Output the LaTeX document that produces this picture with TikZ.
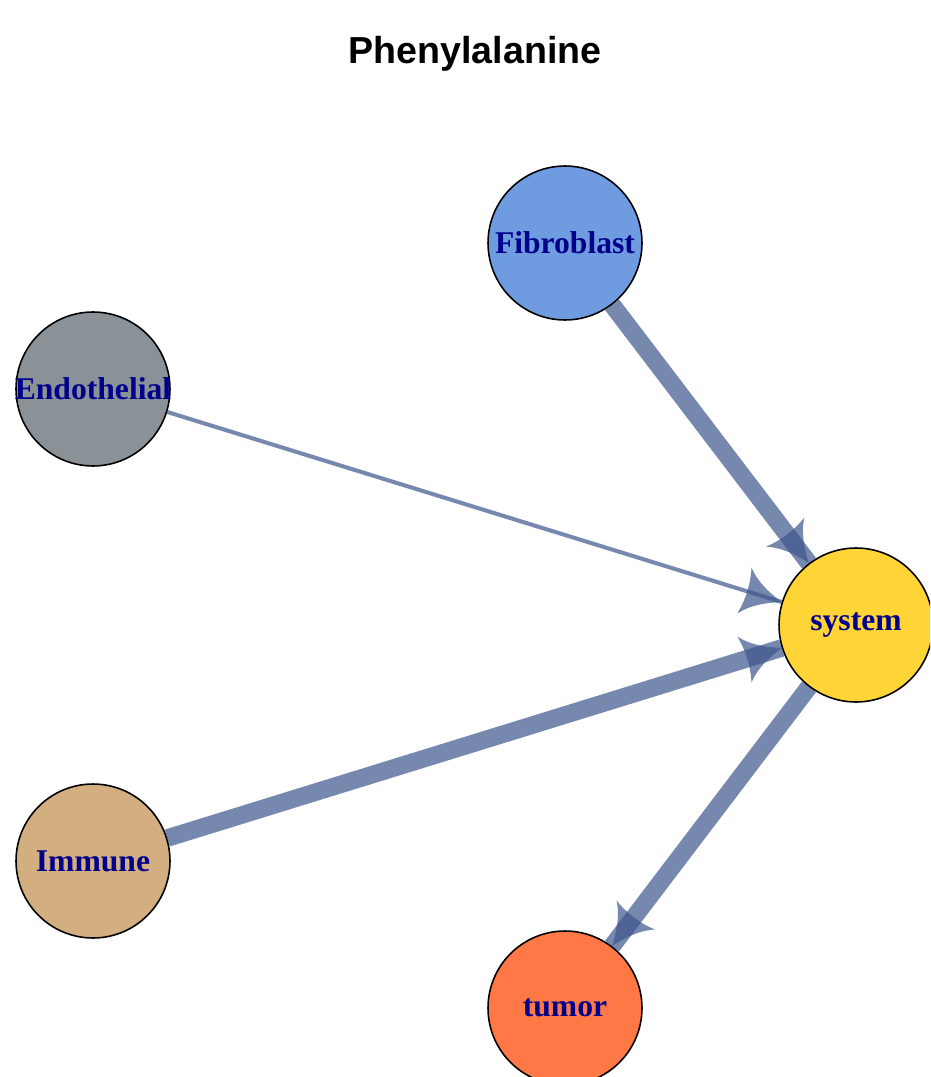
\documentclass[tikz,border=0pt]{standalone}
\usepackage{fontspec}
\setmainfont{Liberation Serif}
\newfontfamily\titlefont{Liberation Sans}
\usetikzlibrary{decorations.markings}
\definecolor{fibrocol}{RGB}{111,156,224}
\definecolor{endocol}{RGB}{138,145,151}
\definecolor{syscol}{RGB}{255,212,55}
\definecolor{immcol}{RGB}{210,174,128}
\definecolor{tumcol}{RGB}{255,120,70}
\definecolor{edgecol}{RGB}{61,85,140}
\definecolor{labcol}{RGB}{0,0,139}
\pgfdeclarelayer{edges}
\pgfsetlayers{edges,main}
\tikzset{
  cell/.style={circle, draw=black, line width=0.9pt, minimum size=3.08cm, inner sep=0pt,
    text=labcol, font=\fontsize{18}{20}\selectfont\bfseries},
  flow/.style={draw=edgecol, draw opacity=0.7, line width=#1,
    postaction={decorate, draw=none},
    decoration={markings, mark=at position 1 with {
      \fill[edgecol, fill opacity=0.7] (0,0) .. controls (-14,5) and (-29,12) .. (-39,24)
        .. controls (-35,8) and (-35,-8) .. (-39,-24)
        .. controls (-29,-12) and (-14,-5) .. (0,0) -- cycle;}}}
}

\begin{document}
\begin{tikzpicture}[x=0.02cm, y=-0.02cm]
\clip (0,0) rectangle (930,1077);
\node[font=\titlefont\fontsize{21.4}{24}\selectfont\bfseries] (title) at (475,54) {Phenylalanine};
\node[cell, fill=fibrocol] (fib) at (565,243) {\makebox[0pt]{Fibroblast}};
\node[cell, fill=endocol] (endo) at (93,389) {\makebox[0pt]{Endothelial}};
\node[cell, fill=syscol] (sys) at (856,625) {\makebox[0pt]{system}};
\node[cell, fill=immcol] (imm) at (93,861) {\makebox[0pt]{Immune}};
\node[cell, fill=tumcol] (tum) at (565,1008) {\makebox[0pt]{tumor}};
\begin{pgfonlayer}{edges}
\draw[flow=10pt] (fib) -- (sys);
\draw[flow=2.3pt] (endo) -- (sys);
\draw[flow=10pt] (imm) -- (sys);
\draw[flow=10pt] (sys) -- (tum);
\end{pgfonlayer}
\end{tikzpicture}
\end{document}
